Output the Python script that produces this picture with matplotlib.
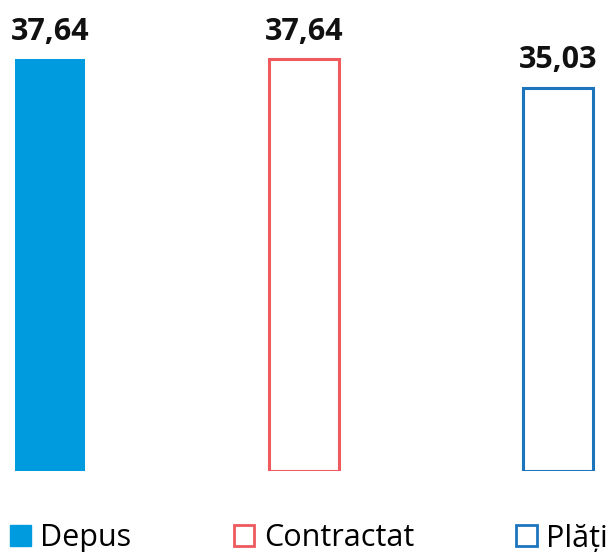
import matplotlib
matplotlib.use('Agg')
import matplotlib.pyplot as plt
from matplotlib.patches import Patch

plt.rcParams['font.family'] = ['Open Sans', 'DejaVu Sans']

categories = ['Depus', 'Contractat', 'Plăți']
values = [37.64, 37.64, 35.03]
labels = ['37,64', '37,64', '35,03']

colors = ['#009ADE', '#EF5A5E', '#1C74BD']
filled = [True, False, False]

fig = plt.figure(figsize=(6.10, 5.52), dpi=100)
ax = fig.add_axes([0, 81 / 552, 1, 471 / 552])

x = list(range(len(values)))
width = 70 / 254
for i, v in enumerate(values):
    if filled[i]:
        ax.bar(x[i], v, width=width, color=colors[i], edgecolor='none')
    else:
        ax.bar(x[i], v, width=width, facecolor='white', edgecolor=colors[i], linewidth=2.2)
    ax.annotate(labels[i], (x[i], v), xytext=(0, 14), textcoords='offset points',
                ha='center', va='baseline', fontsize=22, fontweight='bold', color='#111111')

ax.set_xlim(-50 / 254, 560 / 254)
ax.set_ylim(0, 471 / (412 / 37.64))
ax.axis('off')

handles = []
for i, c in enumerate(categories):
    if filled[i]:
        handles.append(Patch(facecolor=colors[i], edgecolor=colors[i], label=c))
    else:
        handles.append(Patch(facecolor='white', edgecolor=colors[i], linewidth=2.0, label=c))

fig.legend(handles=handles, loc='center', bbox_to_anchor=(0.507, 0.025), ncol=3,
           frameon=False, fontsize=22, handlelength=0.66, handleheight=0.72,
           handletextpad=0.32, columnspacing=3.35, borderpad=0, borderaxespad=0)

plt.savefig('out.png', dpi=100)
